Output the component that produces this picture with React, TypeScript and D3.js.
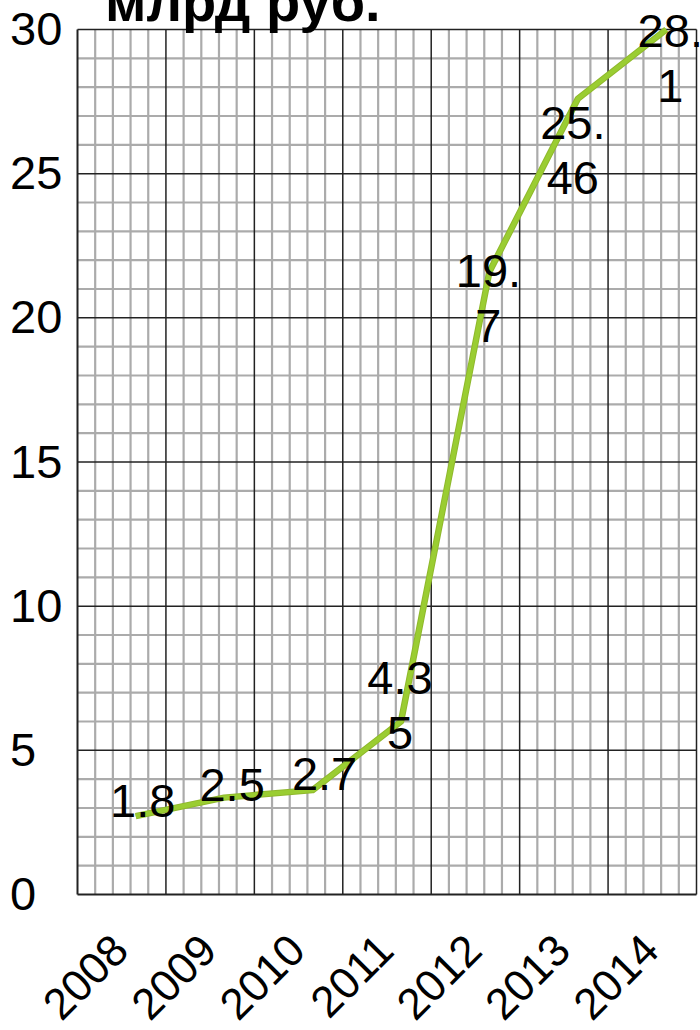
import React, { useEffect, useRef } from 'react'
import * as d3 from 'd3'

// categories on the x axis
const years = ['2008', '2009', '2010', '2011', '2012', '2013', '2014']
// where the green line sits on the grid
const lineValues = [2.72, 3.36, 3.62, 6.0, 21.6, 27.6, 30]
// numbers printed by the points
const labelValues = ['1.8', '2.5', '2.7', '4.35', '19.7', '25.46', '28.1']
const yTicks = [0, 5, 10, 15, 20, 25, 30]
const title = 'млрд руб.'

const width = 700
const height = 1030
const margin = { top: 29.5, right: 3.5, bottom: 135.5, left: 77.5 }
const font = '"Liberation Sans", Arial, sans-serif'

// nudge of each label block centre from its point (px)
const labelShift: [number, number][] = [
  [7, -16],
  [8, -13],
  [12, -17],
  [-1, -17],
  [-1, 26],
  [-5, 51],
  [4, 28]
]

const App: React.FC = () => {
  const svgRef = useRef<SVGSVGElement>(null)

  useEffect(() => {
    if (!svgRef.current) return
    const svg = d3.select(svgRef.current)
    svg.selectAll('*').remove()

    const x = d3
      .scaleBand()
      .domain(years)
      .range([margin.left, width - margin.right])
      .padding(0)
    const y = d3
      .scaleLinear()
      .domain([0, 30])
      .range([height - margin.bottom, margin.top])
    const step = x.step()
    const px = (d: string) => (x(d) ?? 0) + step / 2 + 14

    // minor grid
    const minorX = years.flatMap((yr) =>
      d3.range(1, 5).map((k) => (x(yr) ?? 0) + (k * step) / 5)
    )
    const minorY = d3.range(1, 30).filter((v) => v % 5 !== 0)
    const grid = svg.append('g')
    grid
      .selectAll('.vminor')
      .data(minorX)
      .enter()
      .append('line')
      .attr('x1', (d) => d)
      .attr('x2', (d) => d)
      .attr('y1', y(0))
      .attr('y2', y(30))
      .attr('stroke', '#ababab')
      .attr('stroke-width', 2.2)
    grid
      .selectAll('.hminor')
      .data(minorY)
      .enter()
      .append('line')
      .attr('x1', margin.left)
      .attr('x2', width - margin.right)
      .attr('y1', (d) => y(d))
      .attr('y2', (d) => y(d))
      .attr('stroke', '#ababab')
      .attr('stroke-width', 2.2)

    // major grid
    const majorX = years.map((yr) => x(yr) ?? 0).concat([width - margin.right])
    grid
      .selectAll('.vmajor')
      .data(majorX)
      .enter()
      .append('line')
      .attr('x1', (d) => d)
      .attr('x2', (d) => d)
      .attr('y1', y(0))
      .attr('y2', y(30))
      .attr('stroke', '#222')
      .attr('stroke-width', (d, i) => (i === 0 ? 2 : 1.5))
    grid
      .selectAll('.hmajor')
      .data(yTicks)
      .enter()
      .append('line')
      .attr('x1', margin.left)
      .attr('x2', width - margin.right)
      .attr('y1', (d) => y(d))
      .attr('y2', (d) => y(d))
      .attr('stroke', '#222')
      .attr('stroke-width', (d) => (d === 0 ? 2 : 1.5))

    // y axis labels, left aligned at the page edge
    const yAxis = svg
      .append('g')
      .attr('transform', `translate(${margin.left}, 0)`)
      .call(d3.axisLeft(y).tickValues(yTicks).tickSize(0).tickPadding(12))
    yAxis.select('.domain').remove()
    yAxis
      .selectAll('text')
      .attr('x', 10 - margin.left)
      .attr('text-anchor', 'start')
      .attr('fill', '#000')
      .style('font-family', font)
      .style('font-size', '47px')

    // x axis labels, slanted
    svg
      .append('g')
      .selectAll('text')
      .data(years)
      .enter()
      .append('text')
      .attr(
        'transform',
        (d) => `translate(${(x(d) ?? 0) + step / 2 + 9}, 953) rotate(-45)`
      )
      .attr('text-anchor', 'end')
      .attr('fill', '#000')
      .style('font-family', font)
      .style('font-size', '44px')
      .text((d) => d)

    // the line
    const line = d3
      .line<number>()
      .x((d, i) => px(years[i]))
      .y((d) => y(d))
    svg
      .append('path')
      .datum(lineValues)
      .attr('d', line)
      .attr('fill', 'none')
      .attr('stroke', '#8fb82c')
      .attr('stroke-width', 6.5)
      .attr('stroke-linejoin', 'round')
    svg
      .append('path')
      .datum(lineValues)
      .attr('d', line)
      .attr('fill', 'none')
      .attr('stroke', '#9acd32')
      .attr('stroke-width', 4.5)
      .attr('stroke-linejoin', 'round')

    // value labels, wrapped every 3 characters
    const lineGap = 55
    const cap = 33
    years.forEach((yr, i) => {
      const txt = labelValues[i]
      const parts = txt.match(/.{1,3}/g) ?? [txt]
      const cx = px(yr) + labelShift[i][0]
      const cy = y(lineValues[i]) + labelShift[i][1]
      const blockH = (parts.length - 1) * lineGap + cap
      const first = cy - blockH / 2 + cap
      const t = svg
        .append('text')
        .attr('text-anchor', 'middle')
        .attr('fill', '#000')
        .style('font-family', font)
        .style('font-size', '47px')
      parts.forEach((p, k) => {
        t.append('tspan')
          .attr('x', cx)
          .attr('y', first + k * lineGap)
          .text(p)
      })
    })

    // title, partly above the page
    svg
      .append('text')
      .attr('x', 105)
      .attr('y', 21)
      .attr('fill', '#000')
      .style('font-family', font)
      .style('font-size', '56px')
      .style('font-weight', 'bold')
      .text(title)
  }, [])

  return (
    <svg
      ref={svgRef}
      width={width}
      height={height}
      style={{ position: 'absolute', left: 0, top: 0, background: '#fff' }}
    ></svg>
  )
}

export default App
